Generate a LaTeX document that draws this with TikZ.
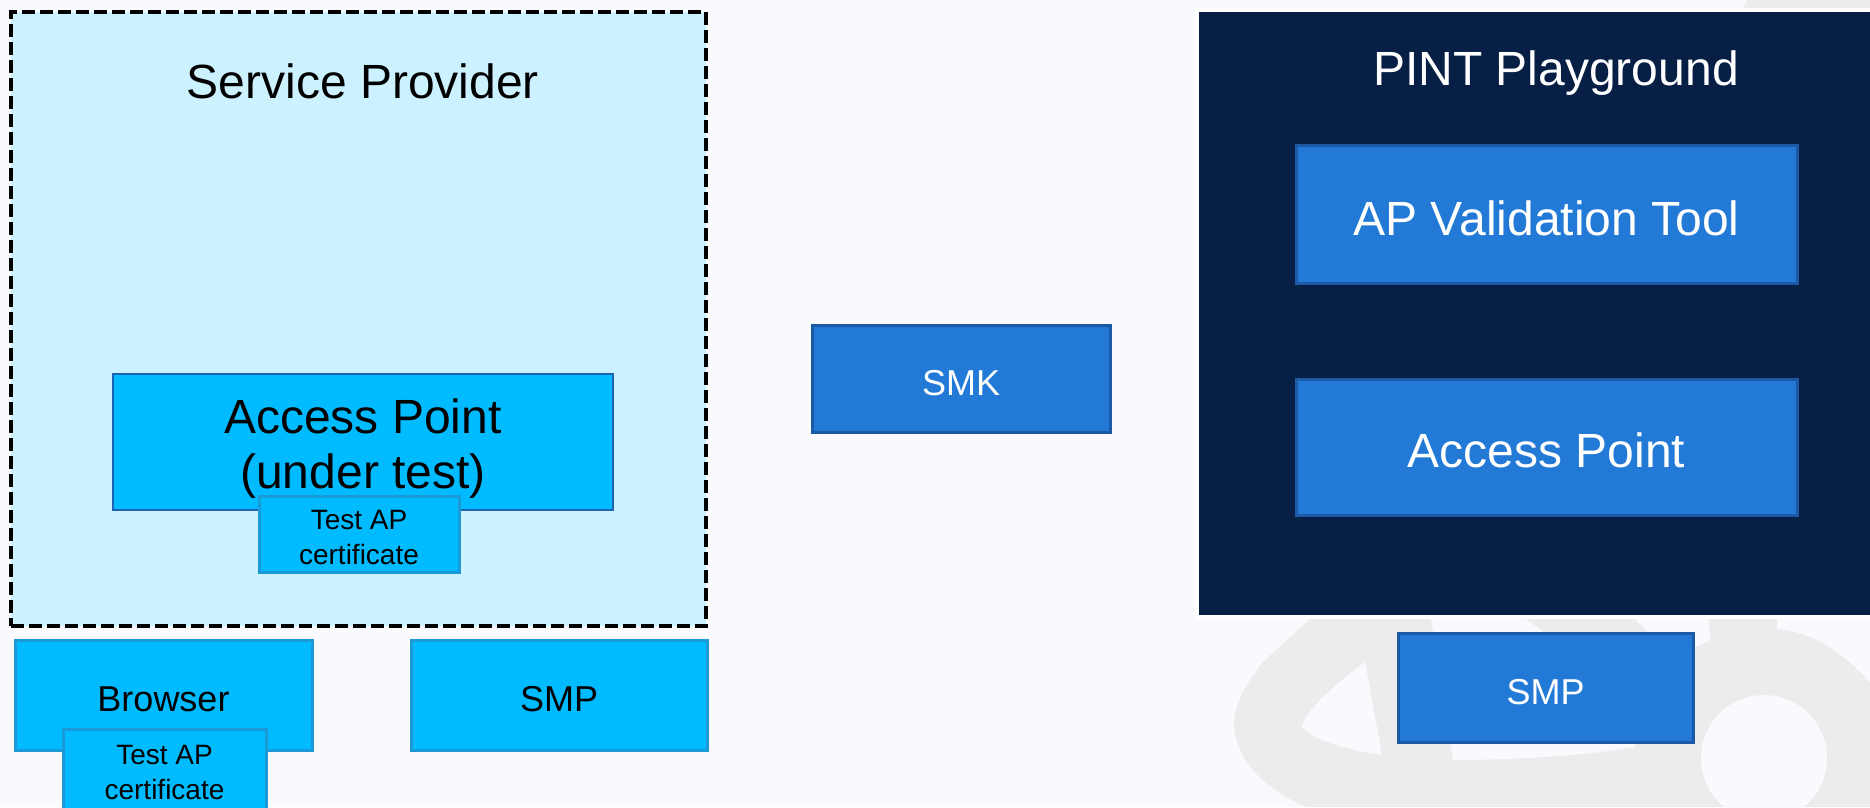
\documentclass[tikz,border=0pt]{standalone}
\usepackage{fontspec}
\setmainfont{Liberation Sans}
\definecolor{bgc}{HTML}{F8FAFD}
\definecolor{wm}{HTML}{ECECEC}
\definecolor{splight}{HTML}{CCF1FF}
\definecolor{cyanfill}{HTML}{00BBFF}
\definecolor{cyanline}{HTML}{1A9BD8}
\definecolor{apline}{HTML}{1F62B0}
\definecolor{bluefill}{HTML}{237AD6}
\definecolor{blueline}{HTML}{1C5AA6}
\definecolor{navy}{HTML}{071F45}
\tikzset{
  box/.style={rectangle, inner sep=0pt, outer sep=0pt, align=center},
  txt/.style={rectangle, inner sep=0pt, outer sep=0pt, align=center},
  cyanbox/.style={box, fill=cyanfill, draw=cyanline, line width=3pt},
  bluebox/.style={box, fill=bluefill, draw=blueline, line width=3pt},
  big/.style={font=\fontsize{48}{55}\selectfont},
  mid/.style={font=\fontsize{36}{42}\selectfont},
  small/.style={font=\fontsize{28}{35}\selectfont},
}
\begin{document}
\begin{tikzpicture}[x=1pt,y=-1pt]
\useasboundingbox (0,0) rectangle (1870,807);
\fill[bgc] (0,0) rectangle (1870,807);
% watermark
\fill[wm] (1310,612) -- (1870,612) -- (1870,807) -- (1307,807)
  .. controls (1265,790) and (1236,760) .. (1234,725)
  .. controls (1234,705) and (1245,685) .. (1263,662) -- (1310,619) -- cycle;
\fill[bgc] (1365,662) -- (1382,755) .. controls (1345,750) and (1310,738) .. (1302,727)
  .. controls (1305,712) and (1330,688) .. (1365,662) -- cycle;
\fill[bgc] (1430,612) -- (1453,760) .. controls (1520,760) and (1590,755) .. (1635,747)
  -- (1640,700) -- (1693,648) -- (1710,640) -- (1708,612) -- cycle;
\fill[wm] (1517,612) -- (1628,612) -- (1660,645) -- (1562,645) -- cycle;
\fill[bgc] (1777,612) -- (1870,612) -- (1870,682) .. controls (1845,655) and (1815,632) .. (1777,629) -- cycle;
\fill[bgc] (1764,758) circle (63);
\fill[wm] (1741,12) -- (1747,0) -- (1870,0) -- (1870,12) -- cycle;

% Service Provider
\node[box, fill=splight, draw=black, line width=4pt, dash pattern=on 13pt off 5pt,
  minimum width=695pt, minimum height=614pt] (sp) at (358.5,319) {};
\node[txt, big] (sptitle) at (363,81) {Service Provider};
\node[box, fill=cyanfill, draw=apline, line width=2.5pt,
  minimum width=500pt, minimum height=136pt] (apt) at (363,442) {};
\node[txt, big] (apttext) at ([yshift=-7pt]apt.center) {Access Point\\(under test)};
\node[cyanbox, minimum width=200pt, minimum height=76pt] (cert1) at (359,534) {};
\node[txt, small] (cert1text) at ([yshift=-3pt]cert1.center) {Test AP\\certificate};
\node[cyanbox, minimum width=297pt, minimum height=110pt] (browser) at (163.5,695) {};
\node[txt, mid] (browsertext) at ([yshift=-4pt]browser.center) {Browser};
\node[cyanbox, minimum width=203pt, minimum height=80pt] (cert2) at (164.5,769) {};
\node[txt, small] (cert2text) at ([yshift=-3pt]cert2.center) {Test AP\\certificate};
\node[cyanbox, minimum width=296pt, minimum height=110pt] (smp1) at (559,695) {};
\node[txt, mid] (smp1text) at ([yshift=-4pt]smp1.center) {SMP};

% SMK
\node[bluebox, minimum width=298pt, minimum height=107pt] (smk) at (961,378.5) {};
\node[txt, mid, text=white] (smktext) at ([yshift=-5pt]smk.center) {SMK};

% PINT Playground
\fill[white] (1195,8) rectangle (1874,619);
\node[box, fill=navy, minimum width=671pt, minimum height=603pt] (pint) at (1534.5,313.5) {};
\node[txt, big, text=white] (pinttitle) at (1556,73) {PINT Playground};
\node[bluebox, minimum width=501pt, minimum height=138pt] (apv) at (1546.5,214) {};
\node[txt, big, text=white] (apvtext) at ([yshift=-4pt]apv.center) {AP Validation Tool};
\node[bluebox, minimum width=501pt, minimum height=136pt] (ap2) at (1546.5,447) {};
\node[txt, big, text=white] (ap2text) at ([yshift=-3pt]ap2.center) {Access Point};
\node[bluebox, minimum width=295pt, minimum height=109pt] (smp2) at (1545.5,687.5) {};
\node[txt, mid, text=white] (smp2text) at ([yshift=-5pt]smp2.center) {SMP};
\end{tikzpicture}
\end{document}
